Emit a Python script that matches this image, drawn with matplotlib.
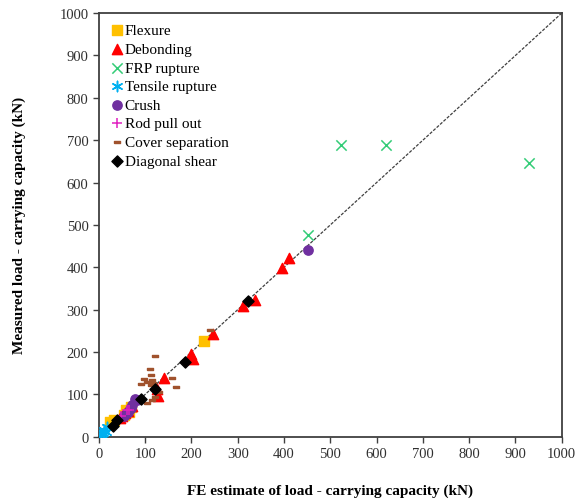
import numpy as np
import matplotlib.pyplot as plt

plt.rcParams['font.family'] = ['Liberation Serif', 'DejaVu Serif']

# values (kN): FE estimate, measured
flex_fe = [227, 25, 33, 58, 64, 70, 55]
flex_exp = [225, 34, 40, 62, 58, 70, 52]

deb_fe = [312, 337, 247, 200, 203, 141, 125, 128, 395, 410, 45, 50, 57, 62, 72]
deb_exp = [308, 322, 243, 196, 184, 138, 112, 96, 399, 422, 44, 50, 55, 60, 72]

frp_fe = [523, 620, 930, 451]
frp_exp = [689, 689, 646, 476]

ten_fe = [5, 8, 12, 15, 18, 3]
ten_exp = [3, 9, 15, 11, 22, 7]

crush_fe = [451, 78, 83, 72, 67, 62, 70, 55, 60]
crush_exp = [441, 90, 86, 76, 65, 58, 68, 50, 55]

rod_fe = [48, 60, 66]
rod_exp = [48, 62, 64]

cover_fe = [241, 121, 110, 112, 98, 114, 103, 117, 112, 90, 157, 166, 114, 122, 104, 130]
cover_exp = [251, 190, 159, 146, 137, 135, 129, 127, 121, 125, 138, 117, 87, 94, 80, 105]

shear_fe = [322, 186, 121, 92, 40, 31]
shear_exp = [321, 176, 113, 88, 40, 25]

fig = plt.figure(figsize=(5.75, 5.02), dpi=100)
ax = fig.add_axes([0.172, 0.128, 0.805, 0.844])

# line of equality
ax.plot([0, 1000], [0, 1000], color='#404040', lw=0.9, ls=(0, (2.5, 1.2)), zorder=1)

rect = [(-1, -0.35), (1, -0.35), (1, 0.35), (-1, 0.35), (-1, -0.35)]

ax.scatter(flex_fe, flex_exp, marker='s', s=45, color='#FFC000', label='Flexure', zorder=3)
ax.scatter(deb_fe, deb_exp, marker='^', s=55, color='#FF0000', label='Debonding', zorder=3)
ax.scatter(frp_fe, frp_exp, marker='x', s=55, color='#33CC77', linewidths=1.1, label='FRP rupture', zorder=3)
ax.scatter(ten_fe, ten_exp, marker=(6, 2, 0), s=55, color='#00B0F0', linewidths=1.1, label='Tensile rupture', zorder=3)
ax.scatter(crush_fe, crush_exp, marker='o', s=45, color='#7030A0', label='Crush', zorder=3)
ax.scatter(rod_fe, rod_exp, marker='+', s=55, color='#E020C0', linewidths=1.1, label='Rod pull out', zorder=3)
ax.scatter(cover_fe, cover_exp, marker=rect, s=20, color='#A0522D', label='Cover separation', zorder=3)
ax.scatter(shear_fe, shear_exp, marker='D', s=32, color='black', label='Diagonal shear', zorder=4)

ax.set_xlim(0, 1000)
ax.set_ylim(0, 1000)
ax.set_xticks(np.arange(0, 1001, 100))
ax.set_yticks(np.arange(0, 1001, 100))
ax.tick_params(direction='out', length=4, width=1, colors='#404040', labelcolor='#303030', labelsize=10.5,
               top=False, right=False)
for sp in ax.spines.values():
    sp.set_color('#404040')
    sp.set_linewidth(1.3)

ax.set_xlabel('FE estimate of load - carrying capacity (kN)', fontsize=11, fontweight='bold', labelpad=17)
ax.set_ylabel('Measured load - carrying capacity (kN)', fontsize=11, fontweight='bold', labelpad=24)

leg = ax.legend(loc='upper left', frameon=False, fontsize=11, handletextpad=0.0, labelspacing=0.32,
                borderaxespad=0.4, handlelength=1.0, scatterpoints=1, borderpad=0.3)

fig.savefig('out.png', dpi=100)
